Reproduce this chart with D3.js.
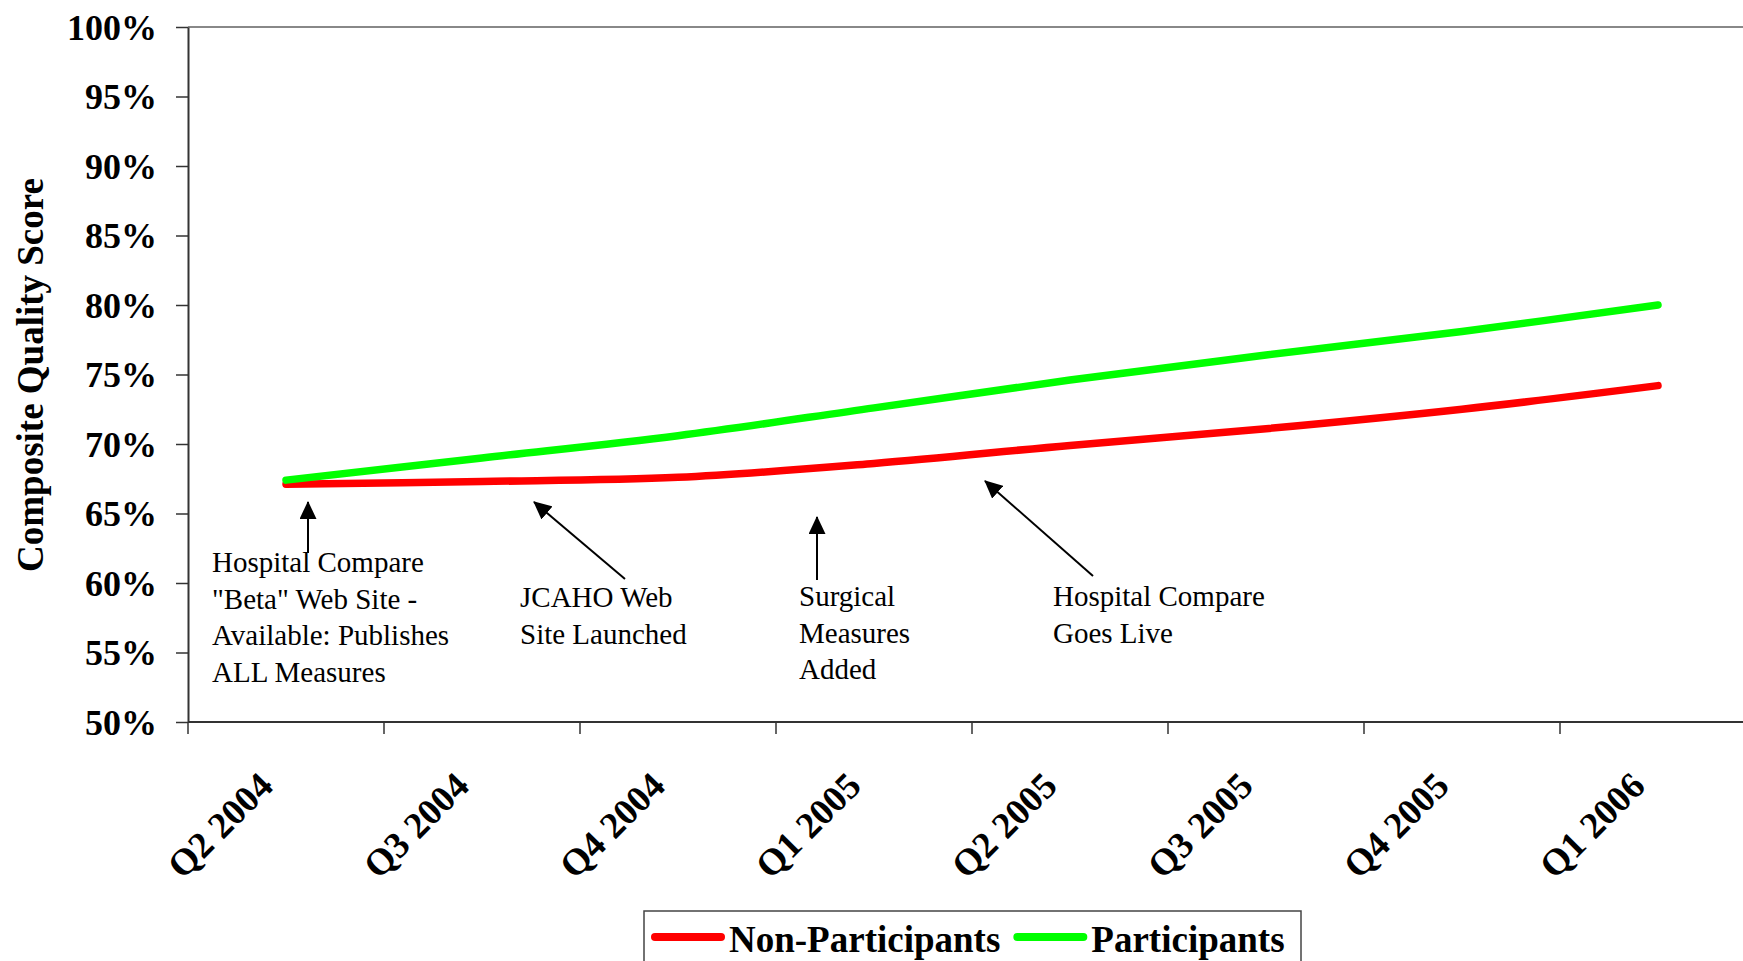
<!DOCTYPE html>
<html>
<head>
<meta charset="utf-8">
<script src="https://cdn.jsdelivr.net/npm/d3@7"></script>
<style>
  html, body { margin: 0; padding: 0; background: #fff; }
  svg { display: block; }
  text { font-family: "Liberation Serif", "Times New Roman", serif; fill: #000; }
</style>
</head>
<body>
<svg id="chart" width="1743" height="961"></svg>
<script>
// Quarterly composite quality scores (fraction of 1)
const quarters = ["Q2 2004", "Q3 2004", "Q4 2004", "Q1 2005", "Q2 2005", "Q3 2005", "Q4 2005", "Q1 2006"];
const nonParticipants = [0.671, 0.673, 0.676, 0.686, 0.699, 0.711, 0.725, 0.742];
const participants    = [0.674, 0.690, 0.706, 0.726, 0.746, 0.764, 0.781, 0.800];
const yTicks = [0.50, 0.55, 0.60, 0.65, 0.70, 0.75, 0.80, 0.85, 0.90, 0.95, 1.00];
const seriesNames = ["Non-Participants", "Participants"];
const seriesColors = ["#ff0000", "#00ff00"];

// Event callouts: text lines, where the text block starts, and arrow from/to
const callouts = [
  { lines: ["Hospital Compare", "\"Beta\" Web Site -", "Available: Publishes", "ALL Measures"],
    tx: 212, ty: 572, from: [308, 553], to: [308, 502] },
  { lines: ["JCAHO Web", "Site Launched"],
    tx: 520, ty: 607, from: [625, 579], to: [534, 502] },
  { lines: ["Surgical", "Measures", "Added"],
    tx: 799, ty: 606, from: [817, 580], to: [817, 517] },
  { lines: ["Hospital Compare", "Goes Live"],
    tx: 1053, ty: 606, from: [1093, 576], to: [985, 481] }
];

const svg = d3.select("#chart");
const W = 1743, H = 961;
const plotLeft = 188, plotTop = 27, plotBottom = 722, bandW = 196;

const x = d3.scaleBand().domain(quarters).range([plotLeft, plotLeft + bandW * quarters.length]).padding(0);
const y = d3.scaleLinear().domain([0.5, 1.0]).range([plotBottom, plotTop]);

// plot frame (top edge visible, right edge runs past the view)
svg.append("line")
  .attr("x1", plotLeft).attr("x2", W).attr("y1", plotTop).attr("y2", plotTop)
  .attr("stroke", "#888").attr("stroke-width", 2);

// y axis
const yAxis = svg.append("g")
  .attr("transform", `translate(${plotLeft},0)`)
  .call(d3.axisLeft(y).tickValues(yTicks).tickFormat(d3.format(".0%")).tickSize(12).tickSizeOuter(0).tickPadding(19));
yAxis.select(".domain").attr("stroke", "#333").attr("stroke-width", 2);
yAxis.selectAll(".tick line").attr("stroke", "#333").attr("stroke-width", 1.5);
yAxis.selectAll(".tick text")
  .style("font-family", "'Liberation Serif', 'Times New Roman', serif")
  .style("font-weight", "bold").style("font-size", "36px").attr("fill", "#000").attr("dy", "0.34em");

// x axis: labels centred in each quarter, tick marks on quarter boundaries
const xAxis = svg.append("g")
  .attr("transform", `translate(0,${plotBottom})`)
  .call(d3.axisBottom(x).tickSize(0).tickSizeOuter(0));
xAxis.select(".domain").attr("stroke", "#333").attr("stroke-width", 2)
  .attr("d", `M${plotLeft},0H${W}`);
xAxis.selectAll(".tick text")
  .style("font-family", "'Liberation Serif', 'Times New Roman', serif")
  .style("font-weight", "bold").style("font-size", "37px").attr("fill", "#000")
  .attr("text-anchor", "end").attr("x", 0).attr("y", 0).attr("dy", 0)
  .attr("transform", "translate(-11,66) rotate(-45)");
xAxis.selectAll(".boundary")
  .data(quarters).join("line").attr("class", "boundary")
  .attr("x1", d => x(d)).attr("x2", d => x(d))
  .attr("y1", 0).attr("y2", 12)
  .attr("stroke", "#333").attr("stroke-width", 1.5);

// series lines
const line = d3.line()
  .x((d, i) => x(quarters[i]) + x.bandwidth() / 2)
  .y(d => y(d))
  .curve(d3.curveCatmullRom.alpha(0.5));

[nonParticipants, participants].forEach((vals, k) => {
  svg.append("path")
    .datum(vals)
    .attr("d", line)
    .attr("fill", "none")
    .attr("stroke", seriesColors[k])
    .attr("stroke-width", 7.5)
    .attr("stroke-linecap", "round")
    .attr("stroke-linejoin", "round");
});

// arrowhead marker
svg.append("defs").append("marker")
  .attr("id", "arrowhead")
  .attr("viewBox", "0 0 18 17")
  .attr("refX", 17).attr("refY", 8.5)
  .attr("markerWidth", 18).attr("markerHeight", 17)
  .attr("markerUnits", "userSpaceOnUse")
  .attr("orient", "auto")
  .append("path").attr("d", "M0,0L18,8.5L0,17Z").attr("fill", "#000");

// callouts
const lineGap = 36.7;
callouts.forEach(c => {
  svg.append("line")
    .attr("x1", c.from[0]).attr("y1", c.from[1])
    .attr("x2", c.to[0]).attr("y2", c.to[1])
    .attr("stroke", "#000").attr("stroke-width", 2)
    .attr("marker-end", "url(#arrowhead)");
  const t = svg.append("text")
    .attr("x", c.tx).attr("y", c.ty)
    .style("font-size", "29px");
  c.lines.forEach((s, i) => {
    t.append("tspan").attr("x", c.tx).attr("y", c.ty + i * lineGap).text(s);
  });
});

// y axis title
svg.append("text")
  .attr("transform", `translate(43,375) rotate(-90)`)
  .attr("text-anchor", "middle")
  .style("font-size", "37px").style("font-weight", "bold")
  .text("Composite Quality Score");

// legend
const lg = svg.append("g");
lg.append("rect")
  .attr("x", 644).attr("y", 911).attr("width", 657).attr("height", 80)
  .attr("fill", "#fff").attr("stroke", "#444").attr("stroke-width", 1.5);
let cx = 655;
seriesNames.forEach((name, k) => {
  lg.append("line")
    .attr("x1", cx).attr("x2", cx + 66).attr("y1", 937).attr("y2", 937)
    .attr("stroke", seriesColors[k]).attr("stroke-width", 8).attr("stroke-linecap", "round");
  const t = lg.append("text")
    .attr("x", cx + 74).attr("y", 952)
    .style("font-size", "37px").style("font-weight", "bold")
    .text(name);
  cx = cx + 74 + t.node().getComputedTextLength() + 17;
});
</script>
</body>
</html>
